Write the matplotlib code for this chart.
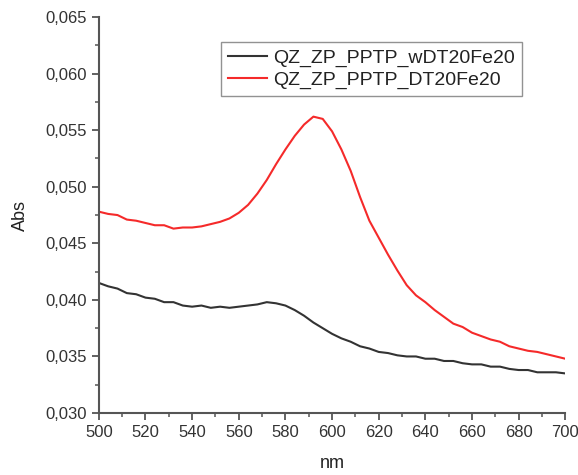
import numpy as np
import matplotlib.pyplot as plt
from matplotlib.ticker import MultipleLocator, FuncFormatter

plt.rcParams['font.family'] = ['Liberation Sans', 'DejaVu Sans']

# wavelength grid (nm)
wl = np.arange(500, 701, 4)

# QZ_ZP_PPTP_wDT20Fe20
abs_w = [0.0415, 0.0412, 0.0410, 0.0406, 0.0405, 0.0402, 0.0401, 0.0398, 0.0398, 0.0395,
         0.0394, 0.0395, 0.0393, 0.0394, 0.0393, 0.0394, 0.0395, 0.0396, 0.0398, 0.0397,
         0.0395, 0.0391, 0.0386, 0.0380, 0.0375, 0.0370, 0.0366, 0.0363, 0.0359, 0.0357,
         0.0354, 0.0353, 0.0351, 0.0350, 0.0350, 0.0348, 0.0348, 0.0346, 0.0346, 0.0344,
         0.0343, 0.0343, 0.0341, 0.0341, 0.0339, 0.0338, 0.0338, 0.0336, 0.0336, 0.0336,
         0.0335]

# QZ_ZP_PPTP_DT20Fe20
abs_d = [0.0478, 0.0476, 0.0475, 0.0471, 0.0470, 0.0468, 0.0466, 0.0466, 0.0463, 0.0464,
         0.0464, 0.0465, 0.0467, 0.0469, 0.0472, 0.0477, 0.0484, 0.0494, 0.0506, 0.0520,
         0.0533, 0.0545, 0.0555, 0.0562, 0.0560, 0.0549, 0.0533, 0.0514, 0.0491, 0.0470,
         0.0455, 0.0440, 0.0426, 0.0413, 0.0404, 0.0398, 0.0391, 0.0385, 0.0379, 0.0376,
         0.0371, 0.0368, 0.0365, 0.0363, 0.0359, 0.0357, 0.0355, 0.0354, 0.0352, 0.0350,
         0.0348]

fig = plt.figure(figsize=(5.78, 4.75), dpi=100)
ax = fig.add_axes([0.171, 0.1305, 0.807, 0.8335])

ax.plot(wl, abs_w, color='#333333', lw=1.5, label='QZ_ZP_PPTP_wDT20Fe20')
ax.plot(wl, abs_d, color='#f52a2a', lw=1.5, label='QZ_ZP_PPTP_DT20Fe20')

ax.set_xlim(500, 700)
ax.set_ylim(0.030, 0.065)
ax.xaxis.set_major_locator(MultipleLocator(20))
ax.xaxis.set_minor_locator(MultipleLocator(10))
ax.yaxis.set_major_locator(MultipleLocator(0.005))
ax.yaxis.set_minor_locator(MultipleLocator(0.0025))
ax.yaxis.set_major_formatter(FuncFormatter(lambda v, p: f'{v:.3f}'.replace('.', ',')))

for s in ['top', 'right']:
    ax.spines[s].set_visible(False)
for s in ['left', 'bottom']:
    ax.spines[s].set_color('#555555')
    ax.spines[s].set_linewidth(1.5)

ax.tick_params(which='major', direction='out', length=5, width=1.3, color='#555555',
               labelsize=12, labelcolor='#333333')
ax.tick_params(which='minor', direction='out', length=3, width=1.1, color='#555555')

ax.set_xlabel('nm', fontsize=13, color='#222222', labelpad=11)
ax.set_ylabel('Abs', fontsize=13, color='#222222', labelpad=12)

leg = ax.legend(loc='upper left', bbox_to_anchor=(0.262, 0.936), fontsize=14,
                frameon=True, fancybox=False, handlelength=2.0, handletextpad=0.35,
                borderpad=0.35, labelspacing=0.2, borderaxespad=0)
leg.get_frame().set_edgecolor('#777777')
leg.get_frame().set_linewidth(1.0)
for t in leg.get_texts():
    t.set_color('#222222')

plt.savefig('out.png', dpi=100)
plt.close()
